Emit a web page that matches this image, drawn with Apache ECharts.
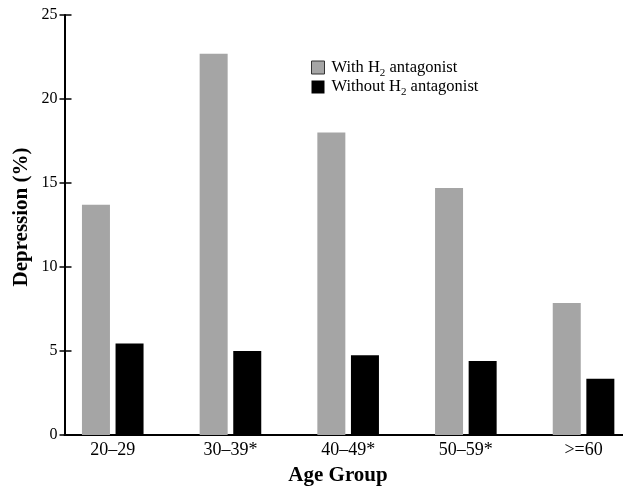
<!DOCTYPE html>
<html>
<head>
<meta charset="utf-8">
<script src="https://cdn.jsdelivr.net/npm/echarts@6/dist/echarts.min.js"></script>
<style>html,body{margin:0;padding:0;background:#fff;overflow:hidden;width:623px;height:488px;}#c{width:660px;height:488px;}</style>
</head>
<body>
<div id="c"></div>
<script>
const categories = ['20\u201329', '30\u201339*', '40\u201349*', '50\u201359*', '>=60'];
const withH2 = [13.7, 22.7, 18.0, 14.7, 7.85];
const withoutH2 = [5.45, 5.0, 4.75, 4.4, 3.35];
const yTicks = { min: 0, max: 25, interval: 5 };
const seriesNames = ['With H2 antagonist', 'Without H2 antagonist'];

const FONT = '"Liberation Serif", "Times New Roman", serif';
const chart = echarts.init(document.getElementById('c'), null, { renderer: 'canvas' });

const option = {
  backgroundColor: '#fff',
  animation: false,
  grid: [
    { left: 64.5, right: 37, top: 15, bottom: 53 },
    { left: 53.9, width: 588.5, top: 15, bottom: 53 }
  ],
  xAxis: [
    { gridIndex: 0, type: 'value', min: 0, max: 1,
      axisLine: { show: true, lineStyle: { color: '#000', width: 2 } },
      axisTick: { show: false }, axisLabel: { show: false }, splitLine: { show: false } },
    { gridIndex: 1, type: 'category', data: categories,
      axisLine: { show: false }, axisTick: { show: false }, splitLine: { show: false },
      axisLabel: { color: '#000', fontFamily: FONT, fontSize: 18, margin: 6 } }
  ],
  yAxis: [
    { gridIndex: 0, type: 'value', position: 'left', min: yTicks.min, max: yTicks.max, interval: yTicks.interval,
      axisLine: { show: true, lineStyle: { color: '#000', width: 2 } },
      axisTick: { show: true, inside: false, length: 5, lineStyle: { color: '#000', width: 1.5 } },
      axisLabel: { color: '#000', fontFamily: FONT, fontSize: 16, margin: 7 },
      splitLine: { show: false },
      name: 'Depression (%)', nameLocation: 'middle', nameRotate: 90, nameGap: 32, nameMoveOverlap: false,
      nameTextStyle: { color: '#000', fontFamily: FONT, fontSize: 21, fontWeight: 'bold', padding: [0, 0, 0, 16] } },
    { gridIndex: 0, type: 'value', position: 'left', min: yTicks.min, max: yTicks.max, interval: yTicks.interval,
      axisLine: { show: false },
      axisTick: { show: true, inside: true, length: 7, lineStyle: { color: '#000', width: 1.5 } },
      axisLabel: { show: false }, splitLine: { show: false } },
    { gridIndex: 1, type: 'value', min: yTicks.min, max: yTicks.max, interval: yTicks.interval,
      show: false }
  ],
  title: {
    text: 'Age Group', left: 338, top: 465, textAlign: 'center', padding: 0,
    textStyle: { color: '#000', fontFamily: FONT, fontSize: 21, fontWeight: 'bold' }
  },
  legend: {
    orient: 'vertical', left: 311, top: 59, padding: 0, itemWidth: 13, itemHeight: 13, itemGap: 0,
    icon: 'rect',
    data: [
      { name: seriesNames[0], itemStyle: { borderColor: '#333', borderWidth: 1 } },
      { name: seriesNames[1] }
    ],
    formatter: function (n) {
      return n === seriesNames[0] ? '{a|With H}{s|2}{a| antagonist}' : '{a|Without H}{s|2}{a| antagonist}';
    },
    textStyle: {
      color: '#000', fontFamily: FONT, fontSize: 16.5, padding: [0, 0, 0, 2],
      rich: {
        a: { color: '#000', fontFamily: FONT, fontSize: 16.5, lineHeight: 18 },
        s: { color: '#000', fontFamily: FONT, fontSize: 11, lineHeight: 11, verticalAlign: 'bottom', padding: [0, 0, -2, 0] }
      }
    }
  },
  series: [
    { name: seriesNames[0], type: 'bar', xAxisIndex: 1, yAxisIndex: 2, data: withH2,
      barWidth: 28, barGap: '20%', itemStyle: { color: '#a5a5a5' } },
    { name: seriesNames[1], type: 'bar', xAxisIndex: 1, yAxisIndex: 2, data: withoutH2,
      barWidth: 28, barGap: '20%', itemStyle: { color: '#000' } }
  ]
};
chart.setOption(option);
</script>
</body>
</html>
